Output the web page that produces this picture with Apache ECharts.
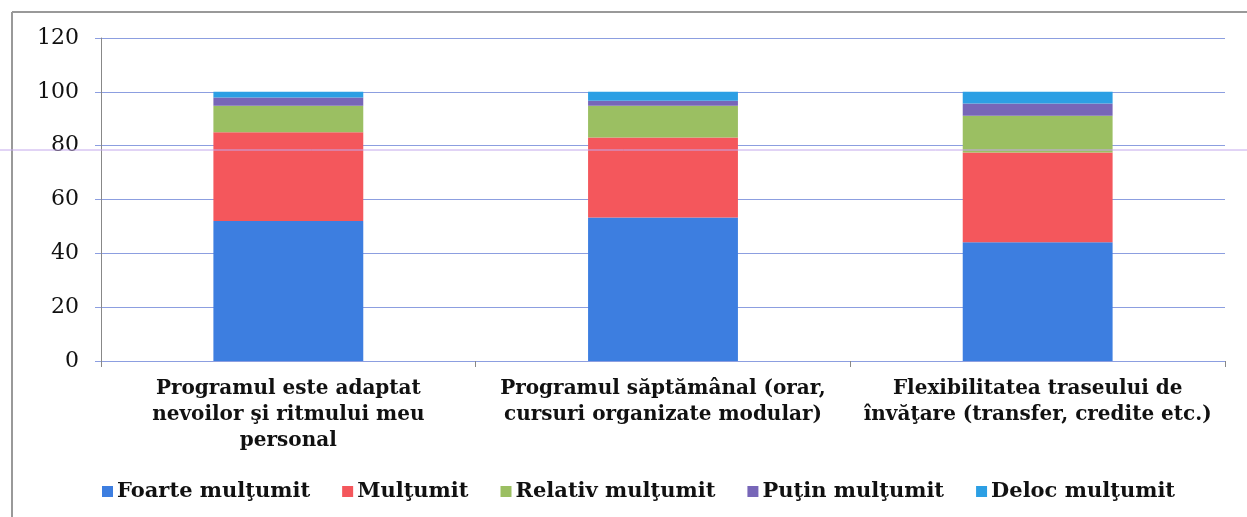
<!DOCTYPE html>
<html>
<head>
<meta charset="utf-8">
<title>Satisfactie program</title>
<script src="https://cdn.jsdelivr.net/npm/echarts@6/dist/echarts.min.js"></script>
<style>
  html, body { margin: 0; padding: 0; background: #fff; }
  #barChart { width: 1247px; height: 517px; }
</style>
</head>
<body>
<div id="barChart"></div>
<script>
var categories = [
  'Programul este adaptat\nnevoilor şi ritmului meu\npersonal',
  'Programul săptămânal (orar,\ncursuri organizate modular)',
  'Flexibilitatea traseului de\nînvăţare (transfer, credite etc.)'
];
var seriesNames = ['Foarte mulţumit', 'Mulţumit', 'Relativ mulţumit', 'Puţin mulţumit', 'Deloc mulţumit'];
var foarteMultumit = [52, 53.3, 44.1];
var multumit = [33, 29.7, 33.4];
var relativMultumit = [9.8, 11.8, 13.6];
var putinMultumit = [3.1, 1.9, 4.6];
var delocMultumit = [2.1, 3.3, 4.3];
var yTicks = [0, 20, 40, 60, 80, 100, 120];

var colors = ['#3d7ee0', '#f4575c', '#9bbf62', '#7766b8', '#2c9fe4'];

initBarChart();

function initBarChart() {
  var dom = document.getElementById('barChart');
  var myChart = echarts.init(dom);
  var values = [foarteMultumit, multumit, relativMultumit, putinMultumit, delocMultumit];
  var series = [];
  for (var i = 0; i < seriesNames.length; i++) {
    series.push({
      name: seriesNames[i],
      type: 'bar',
      stack: 'total',
      barWidth: '40%',
      itemStyle: { color: colors[i] },
      data: values[i]
    });
  }

  var option = {
    backgroundColor: '#fff',
    animation: false,
    color: colors,
    textStyle: { fontFamily: 'DejaVu Serif', color: '#111' },
    grid: { left: 101, right: 22, top: 38, bottom: 156 },
    legend: {
      bottom: 10,
      left: 97,
      itemWidth: 11,
      itemHeight: 11,
      itemGap: 32,
      icon: 'rect',
      textStyle: { fontFamily: 'DejaVu Serif', fontWeight: 'bold', fontSize: 21, color: '#111', padding: [0, 0, 0, -1] },
      data: seriesNames
    },
    xAxis: {
      type: 'category',
      data: categories,
      axisLine: { lineStyle: { color: '#8c9ee0', width: 1 } },
      axisTick: { show: true, length: 6, lineStyle: { color: '#888' } },
      axisLabel: {
        interval: 0,
        margin: 15,
        fontFamily: 'DejaVu Serif',
        fontWeight: 'bold',
        fontSize: 20,
        lineHeight: 26,
        color: '#111'
      }
    },
    yAxis: {
      type: 'value',
      min: yTicks[0],
      max: yTicks[yTicks.length - 1],
      interval: 20,
      axisLine: { show: true, lineStyle: { color: '#888' } },
      axisTick: { show: true, length: 6, lineStyle: { color: '#8c9ee0' } },
      axisLabel: { margin: 22, fontFamily: 'DejaVu Serif', fontSize: 22, color: '#111' },
      splitLine: { lineStyle: { color: '#8c9ee0', width: 1 } }
    },
    graphic: [
      { type: 'line', shape: { x1: 12, y1: 12, x2: 1247, y2: 12 }, style: { stroke: '#999', lineWidth: 2 } },
      { type: 'line', shape: { x1: 12, y1: 12, x2: 12, y2: 517 }, style: { stroke: '#999', lineWidth: 2 } },
      { type: 'line', shape: { x1: 0, y1: 150, x2: 1247, y2: 150 }, style: { stroke: '#c4a8ec', lineWidth: 1 }, z: 100 }
    ],
    series: series
  };

  if (option && typeof option === 'object') {
    myChart.setOption(option, true);
  }
}
</script>
</body>
</html>
